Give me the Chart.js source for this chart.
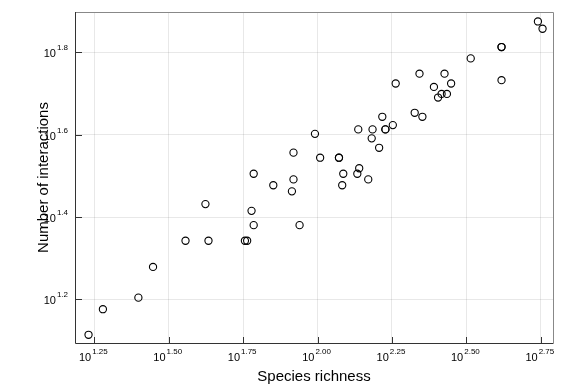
<!DOCTYPE html>
<html>
<head>
<meta charset="utf-8">
<script src="https://cdn.jsdelivr.net/npm/chart.js@4"></script>
<style>
  html, body { margin: 0; padding: 0; background: #fff; }
</style>
</head>
<body>
<canvas id="chart" width="576" height="384"></canvas>
<script>
// Species richness vs number of interactions
const richness = [17, 19, 25, 28, 36, 42, 43, 57, 58, 61, 60, 61, 71, 83, 82, 87, 83, 98, 102, 118, 118,
    122, 121, 136, 138, 148, 137, 153, 169, 169, 152, 161, 179, 165, 212, 225, 183, 220, 267, 246,
    261, 272, 254, 281, 327, 415, 415, 415, 550, 570];
const interactions = [13, 15, 16, 19, 22, 27, 22, 22, 22, 32, 26, 24, 30, 31, 29, 24, 36, 40, 35, 35, 35,
    32, 30, 32, 33, 31, 41, 41, 41, 41, 39, 37, 42, 44, 45, 44, 53, 56, 56, 52,
    50, 50, 49, 53, 61, 65, 65, 54, 75, 72];

const xTickExps = [1.25, 1.5, 1.75, 2.0, 2.25, 2.5, 2.75];
const xTickText = ["1.25", "1.50", "1.75", "2.00", "2.25", "2.50", "2.75"];
const yTickExps = [1.2, 1.4, 1.6, 1.8];
const yTickText = ["1.2", "1.4", "1.6", "1.8"];
const xLimits = [1.185, 2.791];
const yLimits = [1.094, 1.898];

const FONT = '"Liberation Sans", Arial, sans-serif';

const points = richness.map((r, i) => ({ x: r, y: interactions[i] }));

// draws "10" with a raised exponent, anchored at x (align: center or right)
function drawPower(ctx, x, y, exp, align) {
    ctx.font = "11px " + FONT;
    const wBase = ctx.measureText("10").width + 1;
    ctx.font = "8px " + FONT;
    const wExp = ctx.measureText(exp).width;
    const total = wBase + wExp;
    let left = align === "right" ? x - total : x - total / 2;
    ctx.fillStyle = "#000";
    ctx.textAlign = "left";
    ctx.textBaseline = "alphabetic";
    ctx.font = "11px " + FONT;
    ctx.fillText("10", left, y);
    ctx.font = "8px " + FONT;
    ctx.fillText(exp, left + wBase, y - 7);
}

const decorPlugin = {
    id: "decor",
    afterDraw(chart) {
        const ctx = chart.ctx;
        const area = chart.chartArea;
        const xs = chart.scales.x, ys = chart.scales.y;
        ctx.save();

        // frame
        ctx.strokeStyle = "#888";
        ctx.lineWidth = 1;
        ctx.beginPath();
        ctx.moveTo(area.left, area.top + 0.5);
        ctx.lineTo(area.right + 0.5, area.top + 0.5);
        ctx.lineTo(area.right + 0.5, area.bottom);
        ctx.stroke();

        ctx.strokeStyle = "#333";
        ctx.beginPath();
        ctx.moveTo(area.left + 0.5, area.top);
        ctx.lineTo(area.left + 0.5, area.bottom + 0.5);
        ctx.lineTo(area.right + 0.5, area.bottom + 0.5);
        ctx.stroke();

        // inner tick marks
        ctx.beginPath();
        xTickExps.forEach(e => {
            const px = Math.round(xs.getPixelForValue(Math.pow(10, e))) + 0.5;
            ctx.moveTo(px, area.bottom);
            ctx.lineTo(px, area.bottom - 6);
        });
        yTickExps.forEach(e => {
            const py = Math.round(ys.getPixelForValue(Math.pow(10, e))) + 0.5;
            ctx.moveTo(area.left, py);
            ctx.lineTo(area.left + 7, py);
        });
        ctx.stroke();

        // tick labels
        xTickExps.forEach((e, i) => {
            drawPower(ctx, xs.getPixelForValue(Math.pow(10, e)) - 1, area.bottom + 18, xTickText[i], "center");
        });
        yTickExps.forEach((e, i) => {
            drawPower(ctx, 68, ys.getPixelForValue(Math.pow(10, e)) + 5, yTickText[i], "right");
        });

        // axis titles
        ctx.fillStyle = "#000";
        ctx.font = "15px " + FONT;
        ctx.textAlign = "center";
        ctx.textBaseline = "alphabetic";
        ctx.fillText("Species richness", (area.left + area.right) / 2, 381);

        ctx.translate(48, (area.top + area.bottom) / 2);
        ctx.rotate(-Math.PI / 2);
        ctx.fillText("Number of interactions", 0, 0);
        ctx.restore();
    }
};

const chart = new Chart(document.getElementById("chart"), {
    type: "scatter",
    data: {
        datasets: [{
            data: points,
            pointStyle: "circle",
            pointRadius: 3.6,
            pointBorderWidth: 1.1,
            pointBorderColor: "#000",
            pointBackgroundColor: "rgba(255,255,255,0)"
        }]
    },
    options: {
        responsive: false,
        devicePixelRatio: 1,
        animation: false,
        layout: { padding: { top: 12, right: 23, left: 0, bottom: 0 } },
        plugins: {
            legend: { display: false },
            tooltip: { enabled: false }
        },
        scales: {
            x: {
                type: "logarithmic",
                min: Math.pow(10, xLimits[0]),
                max: Math.pow(10, xLimits[1]),
                afterBuildTicks: s => { s.ticks = xTickExps.map(e => ({ value: Math.pow(10, e) })); },
                afterFit: s => { s.height = 41; },
                ticks: { display: false },
                grid: { color: "rgba(0,0,0,0.09)", drawTicks: false },
                border: { display: false }
            },
            y: {
                type: "logarithmic",
                min: Math.pow(10, yLimits[0]),
                max: Math.pow(10, yLimits[1]),
                afterBuildTicks: s => { s.ticks = yTickExps.map(e => ({ value: Math.pow(10, e) })); },
                afterFit: s => { s.width = 75; },
                ticks: { display: false },
                grid: { color: "rgba(0,0,0,0.09)", drawTicks: false },
                border: { display: false }
            }
        }
    },
    plugins: [decorPlugin]
});
</script>
</body>
</html>
